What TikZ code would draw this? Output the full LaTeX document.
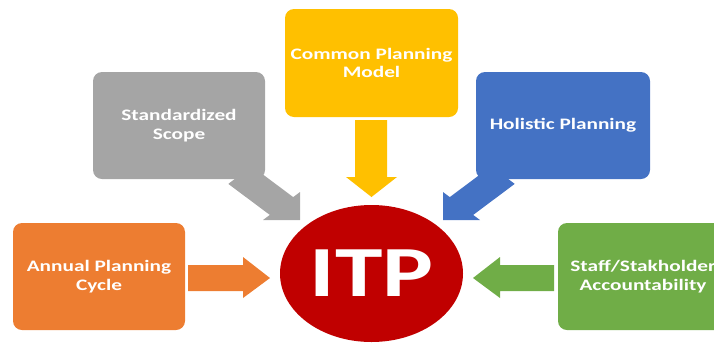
\documentclass[tikz,border=0pt]{standalone}
\usepackage{fontspec}
\newfontfamily\calib[FakeStretch=1.33]{Carlito}
\usetikzlibrary{shapes.geometric}
\definecolor{cOrange}{HTML}{ED7D31}
\definecolor{cGray}{HTML}{A5A5A5}
\definecolor{cYellow}{HTML}{FFC000}
\definecolor{cBlue}{HTML}{4472C4}
\definecolor{cGreen}{HTML}{70AD47}
\definecolor{cRed}{HTML}{C00000}
\begin{document}
\begin{tikzpicture}[x=1pt,y=-1pt,
  box/.style={rectangle, rounded corners=9pt, inner sep=2pt, align=center,
    text=white, font=\calib\bfseries\fontsize{16}{18.5}\selectfont,
    minimum width=172pt, minimum height=107pt},
  blockarrow/.style={draw=none}]
\useasboundingbox (0,0) rectangle (714,346);
\clip (0,0) rectangle (714,346);
% block arrows
\fill[cOrange] (188,265) -- (243,265) -- (243,257) -- (270,278) -- (243,298) -- (243,291) -- (188,291) -- cycle;
\fill[cGreen] (554,265) -- (500,265) -- (500,257) -- (473,278) -- (500,298) -- (500,291) -- (554,291) -- cycle;
\fill[cYellow] (355,120) -- (387,120) -- (387,177) -- (397,177) -- (371.5,197) -- (346,177) -- (355,177) -- cycle;
\fill[cGray] (228.3,183.9) -- (269.8,214.9) -- (263,220) -- (300,220) -- (300,192) -- (293.2,197.1) -- (251.7,166.1) -- cycle;
\fill[cBlue] (514.7,183.9) -- (473.2,214.9) -- (480,220) -- (443,220) -- (443,192) -- (449.8,197.1) -- (491.3,166.1) -- cycle;
% boxes
\node[box, fill=cOrange] (annual) at (99,276.5) {Annual Planning\\Cycle};
\node[box, fill=cGray] (std) at (179,125.5) {Standardized\\Scope};
\node[box, fill=cYellow, minimum width=173pt, minimum height=108pt] (common) at (371.5,63) {Common Planning\\Model};
\node[box, fill=cBlue, minimum width=174pt] (holistic) at (563,125.5) {Holistic Planning};
\node[box, fill=cGreen, minimum width=170pt] (staff) at (643,276.5) {Staff/Stakholder\\Accountability};
% centre
\node[ellipse, fill=cRed, inner sep=0pt, minimum width=183pt, minimum height=137pt,
  text=white, font=\calib\bfseries\fontsize{72}{72}\selectfont] (itp) at (371.5,273.5) {ITP};
\end{tikzpicture}
\end{document}
